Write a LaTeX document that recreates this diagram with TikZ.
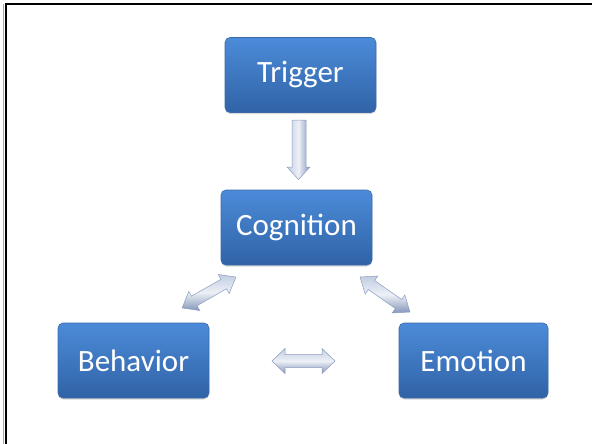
\documentclass[tikz,border=0pt]{standalone}
\usepackage{fontspec}
\setmainfont{Carlito}
\usetikzlibrary{shadows}
\definecolor{boxtop}{HTML}{4C8BD9}
\definecolor{boxbot}{HTML}{3063A6}
\definecolor{boxedge}{HTML}{3A6AAA}
\definecolor{arrtop}{HTML}{C2CDE2}
\definecolor{arrbot}{HTML}{8496BB}
\definecolor{arredge}{HTML}{8C9CBE}
\begin{document}
\begin{tikzpicture}[x=1pt,y=-1pt,
  box/.style={rounded corners=5pt, draw=boxedge, line width=0.6pt,
    top color=boxtop, bottom color=boxbot, text=white,
    font=\fontsize{31}{37}\selectfont, inner sep=0pt, minimum height=75pt,
    drop shadow={shadow xshift=0pt, shadow yshift=-1.5pt, opacity=0.3}},
  blockarrow/.style={draw=arredge, line width=0.5pt, top color=arrtop,
    bottom color=arrbot, middle color=white!70!arrtop},
  pics/dbl/.style args={#1/#2/#3/#4}{code={
    \path[blockarrow] (-#1/2,0) -- (-#1/2+#4,-#3) -- (-#1/2+#4,-#2) -- (#1/2-#4,-#2)
      -- (#1/2-#4,-#3) -- (#1/2,0) -- (#1/2-#4,#3) -- (#1/2-#4,#2)
      -- (-#1/2+#4,#2) -- (-#1/2+#4,#3) -- cycle;
  }}]
\useasboundingbox (0,0) rectangle (592,444);
% frame
\draw[black!35, line width=1pt] (3,4) -- (3,444);
\draw[black, line width=2pt] (5.5,444) -- (5.5,4.5) -- (592,4.5);
% boxes
\node[box, minimum width=151pt] (trigger) at (300.5,75) {Trigger};
\node[box, minimum width=151pt] (cognition) at (296.5,227.5) {Cognition};
\node[box, minimum width=151pt] (behavior) at (133.5,360.5) {Behavior};
\node[box, minimum width=149pt] (emotion) at (473.5,360.5) {Emotion};
% down arrow
\path[draw=arredge, line width=0.5pt, left color=arrtop, right color=arrbot,
  middle color=white!70!arrtop]
  (292,120) -- (306,120) -- (306,167) -- (310,167) -- (298.5,179.5) -- (287,167)
  -- (292,167) -- cycle;
% double arrows
\pic[shift={(209,292.5)}, rotate=29.9] {dbl={62/5.5/11/14}};
\pic[shift={(385,294.5)}, rotate=-35] {dbl={61/5.5/11/14}};
\pic[shift={(303.5,361)}] {dbl={63/6.5/12.5/13}};
\end{tikzpicture}
\end{document}
